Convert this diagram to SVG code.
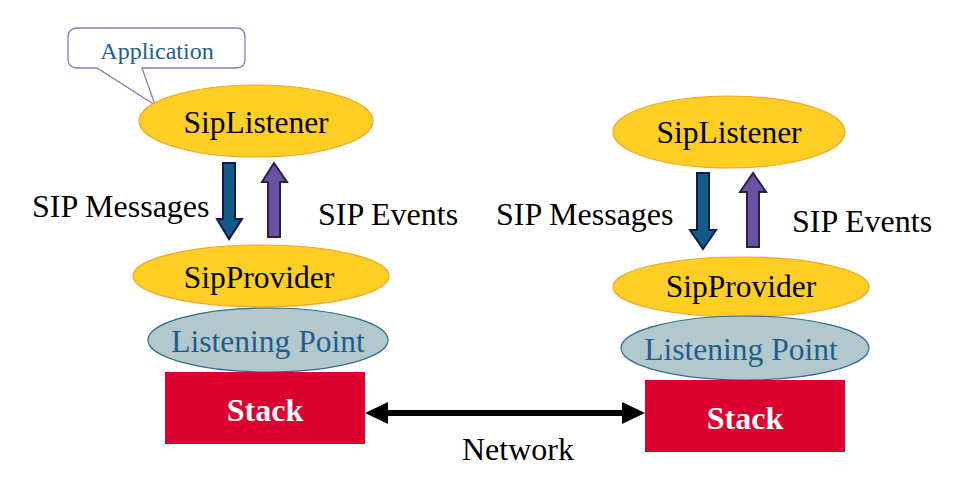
<svg xmlns="http://www.w3.org/2000/svg" width="973" height="483" viewBox="0 0 973 483">
<defs>
<style>
.bg{fill:#ffffff}
.t{font-family:"Liberation Serif","Times New Roman",serif;font-size:31.5px;fill:#000;text-anchor:middle}
.lbl{font-family:"Liberation Serif","Times New Roman",serif;font-size:32px;fill:#000}
.yel{fill:#fdcf24;stroke:#f4a528;stroke-width:1.2}
.lp{fill:#b3c8cd;stroke:#2e6d93;stroke-width:1.2}
.lpt{font-family:"Liberation Serif","Times New Roman",serif;font-size:31.5px;fill:#1d5f8a;text-anchor:middle}
.stack{fill:#db0030}
.st{font-family:"Liberation Serif","Times New Roman",serif;font-size:32px;font-weight:bold;fill:#fff;text-anchor:middle}
.down{fill:#105b87;stroke:#151850;stroke-width:2}
.up{fill:#6a51a1;stroke:#2c1d4c;stroke-width:2}
.call{fill:#fff;stroke:#8a78be;stroke-width:1.3}
.app{font-family:"Liberation Serif","Times New Roman",serif;font-size:24px;fill:#1f5f8b;text-anchor:middle}
</style>
</defs>
<rect class="bg" x="0" y="0" width="973" height="483"/>

<g id="application">
<path class="call" d="M78,28 H236 Q245,28 245,37 V59 Q245,68 236,68 H142 L155,105 L97,68 H77 Q68,68 68,59 V37 Q68,28 78,28 Z"/>
<text class="app" x="157" y="59">Application</text>
</g>

<g id="siplistener-left">
<ellipse class="yel" cx="256" cy="121" rx="117" ry="36"/>
<text class="t" x="256" y="133">SipListener</text>
</g>

<g id="sipprovider-left">
<ellipse class="yel" cx="261" cy="276" rx="128" ry="31"/>
<text class="t" x="259" y="288">SipProvider</text>
</g>

<g id="listeningpoint-left">
<ellipse class="lp" cx="268" cy="340" rx="120" ry="32"/>
<text class="lpt" x="268" y="352">Listening Point</text>
</g>

<g id="stack-left">
<rect class="stack" x="165" y="372" width="200" height="72"/>
<text class="st" x="265" y="421">Stack</text>
</g>

<g id="siplistener-right">
<ellipse class="yel" cx="729" cy="132" rx="116" ry="36"/>
<text class="t" x="729" y="143">SipListener</text>
</g>

<g id="sipprovider-right">
<ellipse class="yel" cx="741" cy="287" rx="128" ry="30"/>
<text class="t" x="741" y="297">SipProvider</text>
</g>

<g id="listeningpoint-right">
<ellipse class="lp" cx="745" cy="348" rx="124" ry="32"/>
<text class="lpt" x="741" y="360">Listening Point</text>
</g>

<g id="stack-right">
<rect class="stack" x="645" y="380" width="200" height="72"/>
<text class="st" x="745" y="429">Stack</text>
</g>

<g id="connectors">
<path class="down" d="M223,163 H235 V219 H242 L229,239 L217,219 H223 Z"/>
<path class="up" d="M268,237 V182 H262 L274,163 L287,182 H280 V237 Z"/>
<path class="down" d="M697,173 H709 V230 H716 L703,249 L690,230 H697 Z"/>
<path class="up" d="M747,247 V192 H740 L753,173 L766,192 H759 V247 Z"/>
<path fill="#000" d="M365,413 L388,402 V410 H622 V402 L645,413 L622,424 V416 H388 V424 Z"/>
</g>

<g id="labels">
<text class="lbl" x="32" y="217">SIP Messages</text>
<text class="lbl" x="318" y="225">SIP Events</text>
<text class="lbl" x="496" y="225">SIP Messages</text>
<text class="lbl" x="792" y="232">SIP Events</text>
<text class="lbl" x="462" y="460">Network</text>
</g>
</svg>
